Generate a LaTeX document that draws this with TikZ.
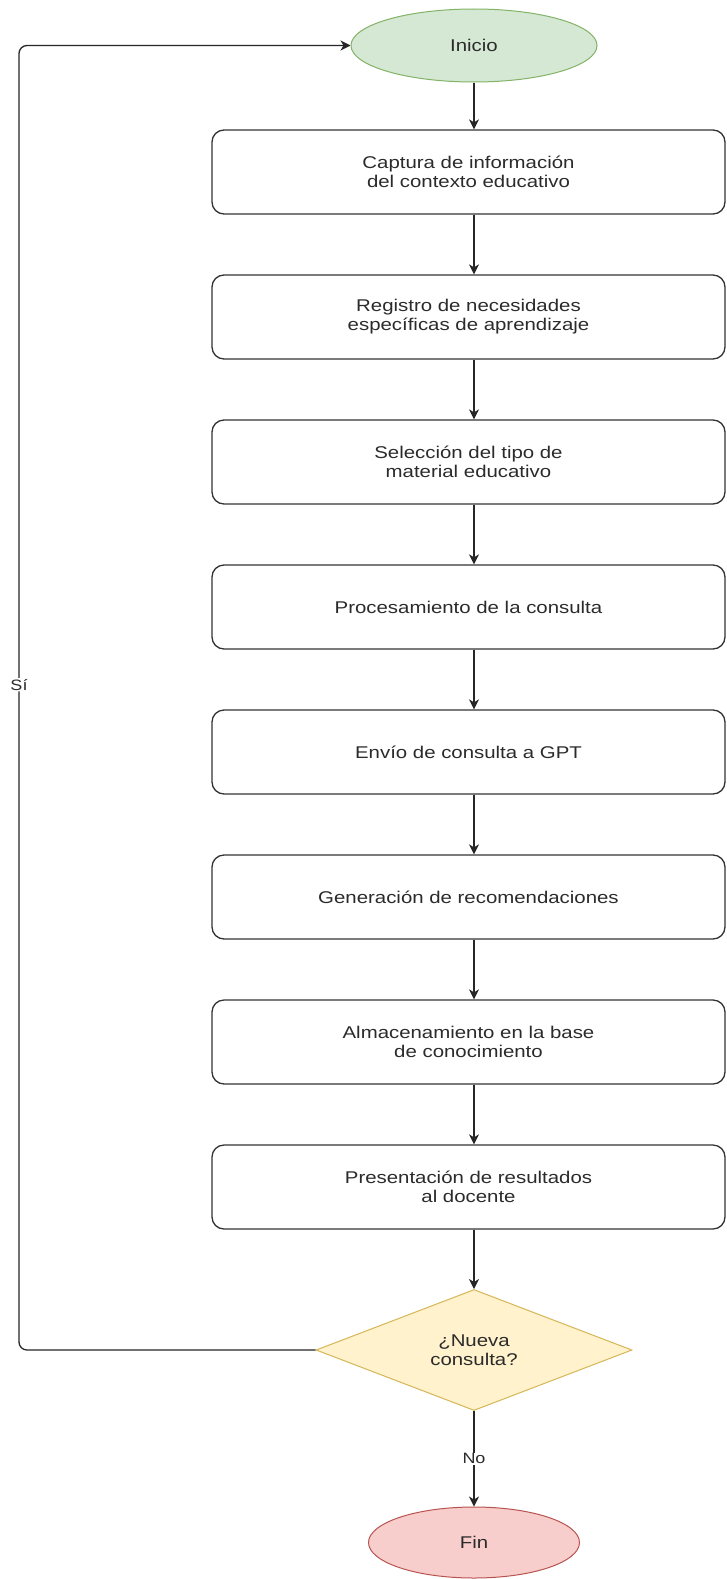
\documentclass[tikz,border=0pt]{standalone}
\usepackage{fontspec}
\setmainfont{Liberation Sans}[FakeStretch=1.2]
\usetikzlibrary{arrows.meta,shapes.geometric}

\definecolor{inifill}{HTML}{D5E8D4}
\definecolor{inidraw}{HTML}{82B366}
\definecolor{decfill}{HTML}{FFF2CC}
\definecolor{decdraw}{HTML}{D6B656}
\definecolor{finfill}{HTML}{F8CECC}
\definecolor{findraw}{HTML}{B85450}
\definecolor{txt}{HTML}{2B2B2B}

\begin{document}
\begin{tikzpicture}[
            x=1pt, y=-1pt,
            font=\fontsize{17}{19}\selectfont,
            text=txt,
            flow/.style={-{Stealth[length=10pt,width=10pt,inset=3pt]},
              line width=1.3pt, draw=black!85},
            stepbox/.style={draw=black!80, line width=1.3pt, rectangle,
              rounded corners=12pt, minimum width=513pt,
              minimum height=84pt, align=center, inner sep=0pt},
            terminal/.style={ellipse, line width=1pt, inner sep=0pt},
            lbl/.style={fill=white, font=\fontsize{15}{17}\selectfont,
              inner sep=1pt}
            ]
            \path[fill=white] (0,0) rectangle (726,1579);
            \useasboundingbox (0,0) rectangle (726,1579);

            \node[terminal, fill=inifill, draw=inidraw,
              minimum width=246pt, minimum height=73pt] (ini) at (474,45.5) {Inicio};

            \node[stepbox] (s1) at (468.5,172) {Captura de información\\del contexto educativo};
            \node[stepbox] (s2) at (468.5,317) {Registro de necesidades\\específicas de aprendizaje};
            \node[stepbox] (s3) at (468.5,462) {Selección del tipo de\\material educativo};
            \node[stepbox] (s4) at (468.5,607) {Procesamiento de la consulta};
            \node[stepbox] (s5) at (468.5,752) {Envío de consulta a GPT};
            \node[stepbox] (s6) at (468.5,897) {Generación de recomendaciones};
            \node[stepbox] (s7) at (468.5,1042) {Almacenamiento en la base\\de conocimiento};
            \node[stepbox] (s8) at (468.5,1187) {Presentación de resultados\\al docente};

            \node[diamond, aspect=2.6, fill=decfill, draw=decdraw, line width=1pt,
              minimum width=316pt, minimum height=121pt, inner sep=0pt,
              align=center] (dec) at (474,1350) {¿Nueva\\consulta?};

            \node[terminal, fill=finfill, draw=findraw,
              minimum width=211pt, minimum height=71pt] (fin) at (474,1542.5) {Fin};

            \coordinate (loopx) at (19,0);

            % main chain
            \draw[flow] (ini) -- (s1.north -| ini.south);
            \foreach \a/\b in {s1/s2, s2/s3, s3/s4, s4/s5, s5/s6, s6/s7, s7/s8}
              \draw[flow] (\a.south -| ini.south) -- (\b.north -| ini.south);
            \draw[flow] (s8.south -| ini.south) -- (dec.north);
            \draw[flow] (dec.south) -- node[lbl] {No} (fin.north);

            % back to start
            \draw[flow, rounded corners=8pt] (dec.west) -- (dec.west -| loopx)
              -- node[lbl, pos=0.51] {Sí} (ini.west -| loopx) -- (ini.west);
\end{tikzpicture}
\end{document}
